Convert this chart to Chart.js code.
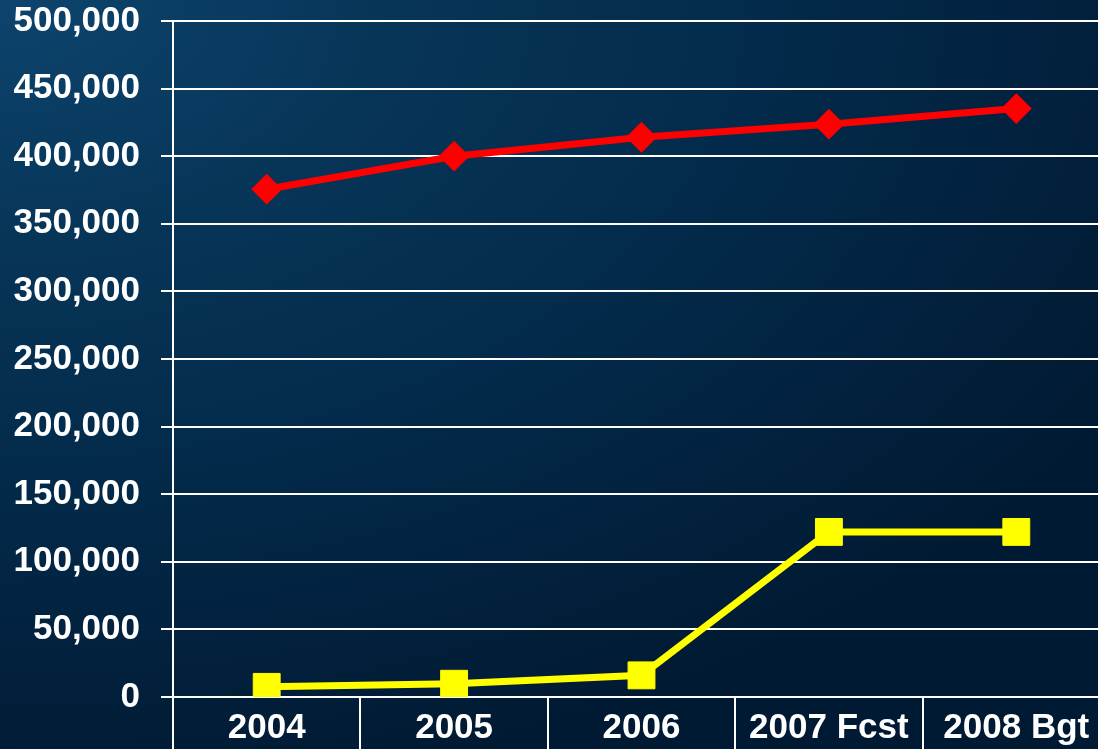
<!DOCTYPE html>
<html>
<head>
<meta charset="utf-8">
<title>Volume 2004–2008</title>
<script src="https://cdn.jsdelivr.net/npm/chart.js@4.4.1/dist/chart.umd.min.js"></script>
<style>
  html, body { margin: 0; padding: 0; overflow: hidden; width: 1098px; height: 749px; }
  #wrap {
    width: 1098px; height: 749px; overflow: hidden;
    background: radial-gradient(1300px 800px at 0% 0%, #0d446d 0%, #073558 30%, #032a4a 60%, #02203c 85%, #011a33 100%);
  }
  canvas { display: block; }
</style>
</head>
<body>
<div id="wrap"><canvas id="chart" width="1110" height="749"></canvas></div>
<script>
// Categories along the x axis
const categories = ['2004', '2005', '2006', '2007 Fcst', '2008 Bgt'];
// Upper (red) series
const redSeries = [375600, 400000, 414000, 423700, 435200];
// Lower (yellow) series
const yellowSeries = [7500, 9800, 16000, 122100, 122100];
// Value axis range and tick step
const yMin = 0;
const yMax = 500000;
const yStep = 50000;

const labelFont = { family: '"Liberation Sans", Arial, sans-serif', size: 35, weight: 'bold', lineHeight: 1 };

new Chart(document.getElementById('chart'), {
  type: 'line',
  data: {
    labels: categories,
    datasets: [
      {
        data: redSeries,
        borderColor: '#ff0000',
        backgroundColor: '#ff0000',
        borderWidth: 7,
        tension: 0,
        pointStyle: 'rectRot',
        pointRadius: 14,
        pointBorderWidth: 2,
        pointBackgroundColor: '#ff0000',
        pointBorderColor: '#ff0000'
      },
      {
        data: yellowSeries,
        borderColor: '#ffff00',
        backgroundColor: '#ffff00',
        borderWidth: 7,
        tension: 0,
        pointStyle: 'rect',
        pointRadius: 19,
        pointBorderWidth: 1,
        pointBackgroundColor: '#ffff00',
        pointBorderColor: '#ffff00'
      }
    ]
  },
  options: {
    responsive: false,
    animation: false,
    devicePixelRatio: 1,
    layout: { autoPadding: false, padding: { top: 21, left: 0, right: 0, bottom: 0 } },
    plugins: { legend: { display: false }, tooltip: { enabled: false } },
    scales: {
      x: {
        offset: true,
        grid: {
          offset: true,
          drawOnChartArea: false,
          drawTicks: true,
          tickLength: 52,
          color: '#ffffff',
          lineWidth: 2
        },
        border: { display: false },
        ticks: {
          color: '#ffffff',
          font: labelFont,
          padding: -38,
          maxRotation: 0,
          autoSkip: false
        },
        afterFit: (scale) => { scale.height = 52; }
      },
      y: {
        min: yMin,
        max: yMax,
        grid: {
          color: '#ffffff',
          lineWidth: 2,
          drawTicks: true,
          tickLength: 12
        },
        border: { display: true, color: '#ffffff', width: 2 },
        ticks: {
          stepSize: yStep,
          color: '#ffffff',
          font: labelFont,
          padding: 21,
          callback: (v) => Number(v).toLocaleString('en-US')
        },
        afterFit: (scale) => {
          scale.width = 173;
          scale.paddingTop = 0;
          scale.paddingBottom = 0;
        }
      }
    }
  }
});
</script>
</body>
</html>
